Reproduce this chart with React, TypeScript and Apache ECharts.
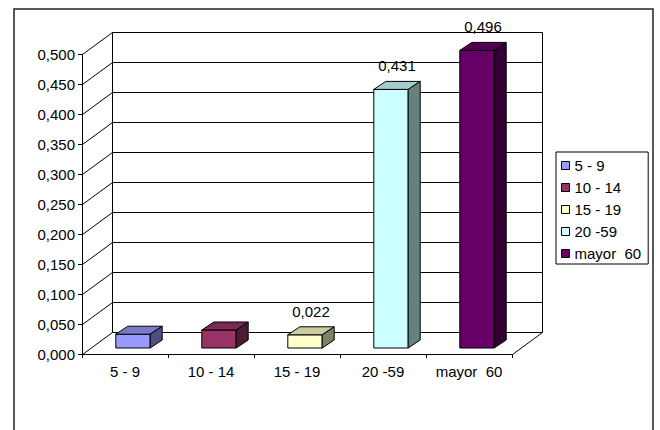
import { useEffect, useRef } from "react";
import * as echarts from "echarts";

// Age groups and their rates
const categories = ["5 - 9", "10 - 14", "15 - 19", "20 -59", "mayor  60"];
const values = [0.023, 0.03, 0.022, 0.431, 0.496];
const showValueLabel = [false, false, true, true, true];
const faceColors = ["#9999FF", "#993366", "#FFFFCC", "#CCFFFF", "#660066"];
const yTicks = [0, 0.05, 0.1, 0.15, 0.2, 0.25, 0.3, 0.35, 0.4, 0.45, 0.5];

const FONT = "'Liberation Sans', Arial, sans-serif";
const fmt = (v: number) => v.toFixed(3).replace(".", ",");

// 3D depth offsets for the walls and the boxes
const WALL_DX = 30;
const WALL_DY = -22;
const BAR_FX = 8;
const BAR_FY = -6;
const BAR_DX = 12;
const BAR_DY = -8;

function shade(hex: string, k: number): string {
  const n = parseInt(hex.slice(1), 16);
  const r = Math.round(((n >> 16) & 255) * k);
  const g = Math.round(((n >> 8) & 255) * k);
  const b = Math.round((n & 255) * k);
  return `rgb(${r},${g},${b})`;
}

const px = (v: number) => Math.round(v) + 0.5;

export default function App() {
  const ref = useRef<HTMLDivElement>(null);

  useEffect(() => {
    if (!ref.current) return;
    const chart = echarts.init(ref.current, undefined, { renderer: "svg" });
    const yMax = yTicks[yTicks.length - 1];

    const line = (x1: number, y1: number, x2: number, y2: number) => ({
      type: "line",
      shape: { x1: px(x1), y1: px(y1), x2: px(x2), y2: px(y2) },
      style: { stroke: "#000", lineWidth: 1 },
      silent: true,
    });

    const wallSeries: any = {
      type: "custom",
      name: "walls",
      silent: true,
      z: 1,
      data: [[0, 0]],
      renderItem: (params: any, api: any) => {
        const cs = params.coordSys;
        const x0 = cs.x;
        const x1 = cs.x + cs.width;
        const children: any[] = [];
        yTicks.forEach((t) => {
          const y = api.coord([0, t])[1];
          children.push(line(x0, y, x0 + WALL_DX, y + WALL_DY));
          children.push(line(x0 + WALL_DX, y + WALL_DY, x1 + WALL_DX, y + WALL_DY));
        });
        const yTop = api.coord([0, yMax])[1];
        const yBot = api.coord([0, 0])[1];
        children.push(line(x0 + WALL_DX, yTop + WALL_DY, x0 + WALL_DX, yBot + WALL_DY));
        children.push(line(x1 + WALL_DX, yTop + WALL_DY, x1 + WALL_DX, yBot + WALL_DY));
        children.push(line(x1, yBot, x1 + WALL_DX, yBot + WALL_DY));
        return { type: "group", children };
      },
    };

    const barSeries: any[] = categories.map((name, i) => ({
      type: "custom",
      name,
      z: 3,
      itemStyle: { color: faceColors[i] },
      data: [[i, values[i]]],
      renderItem: (params: any, api: any) => {
        const idx = api.value(0);
        const v = api.value(1);
        const [cx, yv] = api.coord([idx, v]);
        const y0 = api.coord([idx, 0])[1];
        const w = api.size([1, 0])[0] * 0.4;
        const l = cx - w / 2 + BAR_FX;
        const r = l + w;
        const top = yv + BAR_FY;
        const bot = y0 + BAR_FY;
        const base = faceColors[i];
        const edge = { stroke: "#000", lineWidth: 1 };
        const children: any[] = [
          {
            type: "polygon",
            shape: { points: [[l, bot], [l, top], [r, top], [r, bot]] },
            style: { fill: base, ...edge },
          },
          {
            type: "polygon",
            shape: {
              points: [[l, top], [l + BAR_DX, top + BAR_DY], [r + BAR_DX, top + BAR_DY], [r, top]],
            },
            style: { fill: shade(base, 0.8), ...edge },
          },
          {
            type: "polygon",
            shape: {
              points: [[r, top], [r + BAR_DX, top + BAR_DY], [r + BAR_DX, bot + BAR_DY], [r, bot]],
            },
            style: { fill: shade(base, 0.5), ...edge },
          },
        ];
        if (showValueLabel[i]) {
          children.push({
            type: "text",
            x: l + w / 2 + BAR_DX / 2,
            y: top + BAR_DY - 8,
            style: {
              text: fmt(v),
              fill: "#000",
              font: `15px ${FONT}`,
              align: "center",
              verticalAlign: "bottom",
            },
          });
        }
        return { type: "group", children };
      },
    }));

    chart.setOption({
      animation: false,
      backgroundColor: "#fff",
      textStyle: { fontFamily: FONT },
      grid: { left: 82, top: 54, width: 430, height: 300 },
      xAxis: {
        type: "category",
        data: categories,
        axisLine: { lineStyle: { color: "#000", width: 1 } },
        axisTick: { show: true, length: 4, interval: 0, lineStyle: { color: "#000" } },
        axisLabel: { color: "#000", fontSize: 15, margin: 10, interval: 0, fontFamily: FONT },
        splitLine: { show: false },
      },
      yAxis: {
        type: "value",
        min: 0,
        max: yMax,
        interval: 0.05,
        axisLine: { show: true, lineStyle: { color: "#000", width: 1 } },
        axisTick: { show: true, length: 4, lineStyle: { color: "#000" } },
        axisLabel: {
          color: "#000",
          fontSize: 15,
          margin: 7,
          fontFamily: FONT,
          formatter: (v: number) => fmt(v),
        },
        splitLine: { show: false },
      },
      legend: {
        data: categories,
        orient: "vertical",
        left: 556,
        top: 152,
        icon: "rect",
        itemWidth: 8,
        itemHeight: 8,
        itemGap: 7,
        selectedMode: false,
        borderColor: "#000",
        borderWidth: 1,
        padding: [6, 7, 3, 5],
        itemStyle: { borderColor: "#000", borderWidth: 1 },
        textStyle: { color: "#000", fontSize: 15, fontFamily: FONT, padding: [0, 0, 0, 0] },
      },
      graphic: [
        {
          type: "rect",
          shape: { x: 14, y: 9, width: 639, height: 430 },
          style: { fill: "none", stroke: "#222", lineWidth: 1.5 },
          silent: true,
          z: 0,
        },
      ],
      series: [wallSeries, ...barSeries],
    });

    return () => chart.dispose();
  }, []);

  return (
    <div
      ref={ref}
      style={{ position: "fixed", left: 0, top: 0, width: 660, height: 430 }}
    />
  );
}
